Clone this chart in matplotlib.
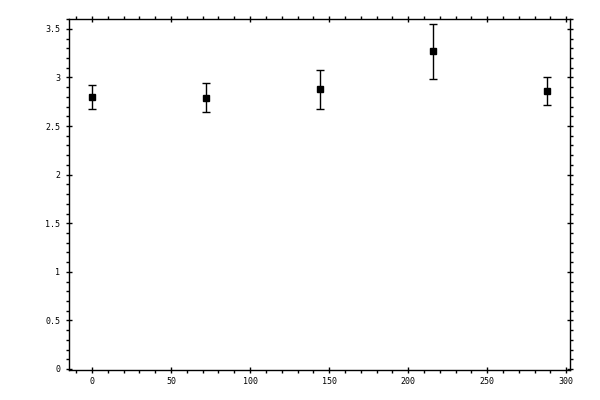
import matplotlib
matplotlib.use("Agg")
import matplotlib.pyplot as plt
from matplotlib.ticker import MultipleLocator

# values
x = [0, 72, 144, 216, 288]
y = [2.80, 2.79, 2.88, 3.27, 2.86]
yerr = [0.127, 0.15, 0.20, 0.285, 0.145]

fig = plt.figure(figsize=(6, 4), dpi=100)
ax = fig.add_axes([0.1155, 0.074, 0.8345, 0.878])

ax.errorbar(x, y, yerr=yerr, fmt="s", color="black", markersize=5,
            elinewidth=1, capsize=3, capthick=1, ecolor="black")

ax.set_xlim(-14.4, 302.4)
ax.set_ylim(-0.015, 3.6)

ax.xaxis.set_major_locator(MultipleLocator(50))
ax.xaxis.set_minor_locator(MultipleLocator(10))
ax.yaxis.set_major_locator(MultipleLocator(0.5))
ax.yaxis.set_minor_locator(MultipleLocator(0.1))
ax.yaxis.set_major_formatter(plt.FuncFormatter(lambda v, p: f"{v:g}"))

for s in ax.spines.values():
    s.set_linewidth(1)

ax.tick_params(which="major", direction="inout", length=5, width=1,
               top=True, right=True, labelsize=6)
ax.tick_params(which="minor", direction="out", length=2.2, width=1,
               top=True, right=True)
ax.tick_params(axis="y", which="major", pad=4)
ax.tick_params(axis="x", which="major", pad=2.5)
for lab in ax.get_xticklabels() + ax.get_yticklabels():
    lab.set_family("DejaVu Sans Mono")

fig.savefig("out.png", dpi=100)
